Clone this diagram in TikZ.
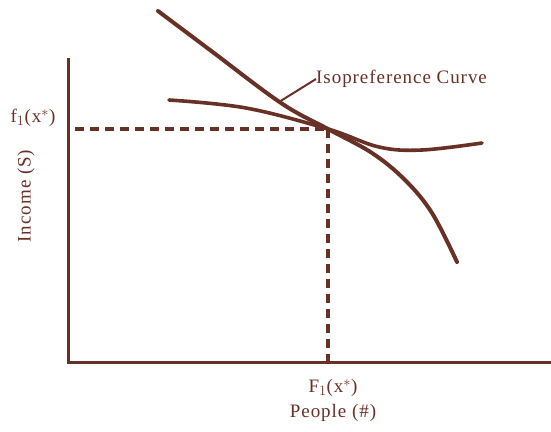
\documentclass[tikz,border=0pt]{standalone}
\usepackage{fontspec}
\setmainfont[LetterSpace=5]{Liberation Serif}
\definecolor{ink}{RGB}{105,48,38}
\begin{document}
\begin{tikzpicture}[x=1pt,y=-1pt,
  axis/.style={draw=ink,line width=3pt},
  curve/.style={draw=ink,line width=4pt,line cap=round},
  guide/.style={draw=ink,line width=3.4pt,dash pattern=on 9pt off 6pt},
  lbl/.style={text=ink,inner sep=0pt,font=\fontsize{19}{21}\selectfont}]
\useasboundingbox (0,0) rectangle (551,431);
% axes
\coordinate (o) at (68,362);
\coordinate (ytop) at (68,58);
\coordinate (xend) at (551,362);
\draw[axis] (ytop) -- (o) -- (xend);
% tangency point
\coordinate (p) at (328,129);
\coordinate (py) at (75,129);
\coordinate (px) at (328,362);
\draw[guide] (py) -- (p);
\draw[guide] (p) -- (px);
% steep curve
\draw[curve] plot[smooth,tension=0.6] coordinates {(158,11) (210,50) (281,103) (328,129) (372,153) (405,180) (432,213) (457,262)};
% flat (isopreference) curve
\draw[curve,line width=3.6pt] plot[smooth,tension=0.6] coordinates {(169,100) (246,108) (328,129) (379,147) (422,150) (482,143)};
% leader
\coordinate (lp) at (279,102);
\node[lbl,anchor=west] (iso) at (316,79) {Isopreference Curve};
\draw[ink,line width=2pt] (lp) -- (iso.west);
% labels
\node[lbl] (fy) at (33,118) {f$_1$(x$^{*}$)};
\node[lbl,rotate=90] (yl) at (26,196) {Income (S)};
\node[lbl] (fx) at (333,388) {F$_1$(x$^{*}$)};
\node[lbl] (xl) at (333,413) {People (\#)};
\end{tikzpicture}
\end{document}
